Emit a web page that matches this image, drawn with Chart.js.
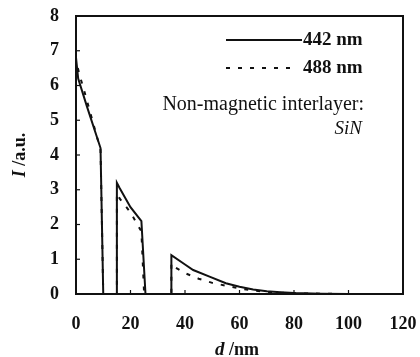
<!DOCTYPE html>
<html>
<head>
<meta charset="utf-8">
<script src="https://cdn.jsdelivr.net/npm/chart.js@4.4.1/dist/chart.umd.min.js"></script>
<style>
    body { margin: 0; background: #fff; }
    #wrap { width: 420px; height: 357px; }
</style>
</head>
<body>
<div id="wrap"><canvas id="chart"></canvas></div>
<script>
// 442 nm (solid)
const d442 = [0, 0, 0.8, 4, 9, 10, 15, 15, 16, 20, 24, 25.5, 35, 35, 40, 43, 49, 55, 60, 65, 70, 75, 80, 90, 100, 120];
const i442 = [0, 6.8, 6.2, 5.4, 4.2, 0, 0, 3.2, 3.05, 2.5, 2.1, 0, 0, 1.12, 0.85, 0.69, 0.5, 0.31, 0.21, 0.13, 0.08, 0.05, 0.03, 0.01, 0, 0];

// 488 nm (dashed)
const d488 = [0, 0, 1.5, 3, 6, 9, 10, 15, 15, 16, 20, 24, 25, 35, 35, 36, 40, 45, 50, 55, 60, 65, 70, 80, 90, 100, 120];
const i488 = [0, 6.7, 6.25, 5.85, 5.0, 4.15, 0, 0, 2.9, 2.75, 2.35, 1.8, 0, 0, 0.88, 0.78, 0.6, 0.44, 0.32, 0.24, 0.16, 0.1, 0.06, 0.02, 0.01, 0, 0];

const xTicks = [0, 20, 40, 60, 80, 100, 120];
const yTicks = [0, 1, 2, 3, 4, 5, 6, 7, 8];

const serif = '"Liberation Serif", "Times New Roman", serif';
const ink = '#111';

function toPoints(xs, ys) {
    let pts = [];
    for (let i = 0; i < xs.length; i++) {
        pts.push({ x: xs[i], y: ys[i] });
    }
    return pts;
}

// frame, inward ticks, axis titles, legend and note
const decorPlugin = {
    id: 'decor',
    afterDraw(chart) {
        const ctx = chart.ctx;
        const a = chart.chartArea;
        const xs = chart.scales.x;
        const ys = chart.scales.y;

        ctx.save();
        ctx.strokeStyle = ink;
        ctx.lineWidth = 2;
        ctx.strokeRect(a.left, a.top, a.right - a.left, a.bottom - a.top);

        ctx.lineWidth = 1.2;
        yTicks.forEach(function (v) {
            let py = ys.getPixelForValue(v);
            ctx.beginPath();
            ctx.moveTo(a.left, py);
            ctx.lineTo(a.left + 4, py);
            ctx.stroke();
        });
        xTicks.forEach(function (v) {
            let px = xs.getPixelForValue(v);
            ctx.beginPath();
            ctx.moveTo(px, a.bottom);
            ctx.lineTo(px, a.bottom - 4);
            ctx.stroke();
        });

        ctx.fillStyle = ink;
        ctx.textBaseline = 'middle';

        // x title: d /nm
        ctx.font = 'italic bold 19px ' + serif;
        let w1 = ctx.measureText('d').width;
        ctx.font = 'bold 18px ' + serif;
        let w2 = ctx.measureText(' /nm').width;
        let sx = 237 - (w1 + w2) / 2;
        ctx.textAlign = 'left';
        ctx.font = 'italic bold 19px ' + serif;
        ctx.fillText('d', sx, 350);
        ctx.font = 'bold 18px ' + serif;
        ctx.fillText(' /nm', sx + w1, 350);

        // y title: I /a.u.
        ctx.save();
        ctx.translate(20, 155);
        ctx.rotate(-Math.PI / 2);
        ctx.font = 'italic bold 18px ' + serif;
        w1 = ctx.measureText('I').width;
        ctx.font = 'bold 18px ' + serif;
        w2 = ctx.measureText(' /a.u.').width;
        sx = -(w1 + w2) / 2;
        ctx.font = 'italic bold 18px ' + serif;
        ctx.fillText('I', sx, 0);
        ctx.font = 'bold 18px ' + serif;
        ctx.fillText(' /a.u.', sx + w1, 0);
        ctx.restore();

        // legend
        chart.data.datasets.forEach(function (ds, i) {
            let ly = 40 + i * 28;
            ctx.beginPath();
            ctx.strokeStyle = ds.borderColor;
            ctx.lineWidth = ds.borderWidth;
            ctx.setLineDash(ds.borderDash || []);
            ctx.moveTo(226, ly);
            ctx.lineTo(i === 0 ? 302 : 290, ly);
            ctx.stroke();
            ctx.setLineDash([]);
            ctx.font = 'bold 19px ' + serif;
            ctx.textAlign = 'left';
            ctx.fillText(ds.label, 303, ly);
        });

        // note
        ctx.textAlign = 'right';
        ctx.font = '20px ' + serif;
        ctx.fillText('Non-magnetic interlayer:', 364, 105);
        ctx.font = 'italic 19px ' + serif;
        ctx.fillText('SiN', 362, 129);
        ctx.restore();
    }
};

new Chart(document.getElementById('chart'), {
    type: 'line',
    data: {
        datasets: [{
            label: '442 nm',
            data: toPoints(d442, i442),
            borderColor: ink,
            borderWidth: 2,
            pointRadius: 0,
            fill: false,
            tension: 0
        }, {
            label: '488 nm',
            data: toPoints(d488, i488),
            borderColor: ink,
            borderWidth: 2,
            borderDash: [4, 8],
            pointRadius: 0,
            fill: false,
            tension: 0
        }]
    },
    options: {
        responsive: true,
        maintainAspectRatio: false,
        animation: false,
        layout: {
            padding: { top: 16, right: 17, left: 0, bottom: 0 }
        },
        plugins: {
            legend: { display: false },
            tooltip: { enabled: false }
        },
        scales: {
            x: {
                type: 'linear',
                min: 0,
                max: 120,
                afterBuildTicks: function (scale) {
                    scale.ticks = xTicks.map(function (v) { return { value: v }; });
                },
                afterFit: function (scale) {
                    scale.height = 63;
                    scale.paddingLeft = 0;
                    scale.paddingRight = 0;
                },
                grid: { display: false, drawTicks: false },
                border: { display: false },
                ticks: {
                    padding: 20,
                    color: ink,
                    font: { family: serif, size: 18, weight: 'bold' }
                }
            },
            y: {
                min: 0,
                max: 8,
                afterBuildTicks: function (scale) {
                    scale.ticks = yTicks.map(function (v) { return { value: v }; });
                },
                afterFit: function (scale) {
                    scale.width = 76;
                    scale.paddingTop = 0;
                    scale.paddingBottom = 0;
                },
                grid: { display: false, drawTicks: false },
                border: { display: false },
                ticks: {
                    padding: 17,
                    color: ink,
                    font: { family: serif, size: 18, weight: 'bold' }
                }
            }
        }
    },
    plugins: [decorPlugin]
});
</script>
</body>
</html>
